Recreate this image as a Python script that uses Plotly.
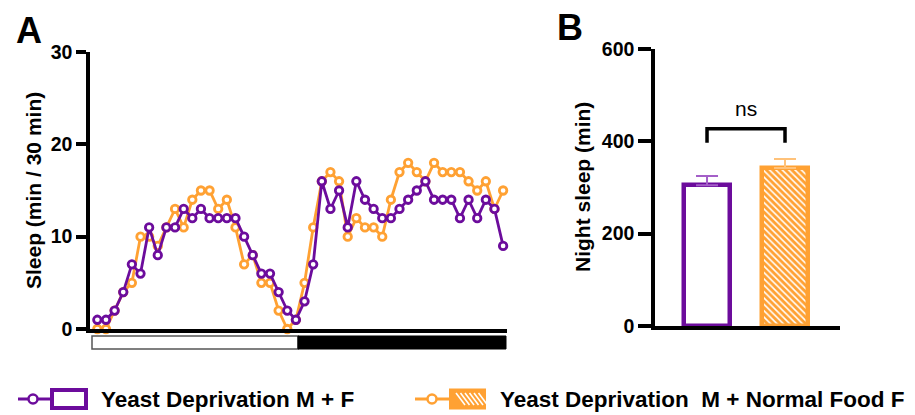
import plotly.graph_objects as go

# ---------------- data ----------------
time_bins = list(range(48))  # 30-min bins over 24 h
yd_mf = [1, 1, 2, 4, 7, 6, 11, 8, 11, 11,
         13, 12, 13, 12, 12, 12, 12, 10, 8, 6,
         6, 4, 2, 1, 3, 7, 16, 13, 15, 11,
         16, 14, 13, 12, 12, 13, 14, 15, 16, 14,
         14, 14, 12, 14, 12, 14, 13, 9]
yd_m_nf_f = [0, 0, 2, 4, 5, 10, 10, 9, 11, 13,
             11, 14, 15, 15, 13, 14, 11, 7, 8, 5,
             5, 2, 0, 1, 5, 11, 16, 17, 16, 10,
             12, 11, 11, 10, 14, 17, 18, 17, 16, 18,
             17, 17, 17, 16, 15, 16, 13, 15]

bar_groups = ["Yeast Deprivation M + F", "Yeast Deprivation  M + Normal Food F"]
night_sleep = [305, 342]
night_sem = [20, 20]

y_ticks_a = [0, 10, 20, 30]
y_ticks_b = [0, 200, 400, 600]

PURPLE = "#6C0C9C"
ORANGE = "#FFA133"
PURPLE_LIGHT = "#A45FC8"
ORANGE_LIGHT = "#FFC27A"
FONT = "Liberation Sans"

W, H = 915, 415
def px(x):
    return x / W
def py(y):
    return 1 - y / H

fig = go.Figure()

# ---------------- panel A ----------------
fig.add_trace(go.Scatter(
    x=time_bins, y=yd_m_nf_f, mode="lines+markers", xaxis="x", yaxis="y",
    line=dict(color=ORANGE, width=2.8),
    marker=dict(symbol="circle", size=7.5, color="white", line=dict(color=ORANGE, width=2.8)),
    cliponaxis=False, showlegend=False))
fig.add_trace(go.Scatter(
    x=time_bins, y=yd_mf, mode="lines+markers", xaxis="x", yaxis="y",
    line=dict(color=PURPLE, width=2.8),
    marker=dict(symbol="circle", size=7.5, color="white", line=dict(color=PURPLE, width=2.8)),
    cliponaxis=False, showlegend=False))

# ---------------- panel B ----------------
fig.add_trace(go.Bar(
    x=[0], y=[night_sleep[0]], xaxis="x2", yaxis="y2", width=0.6,
    marker=dict(color="white", line=dict(color=PURPLE, width=4.5)),
    error_y=dict(type="data", array=[night_sem[0]], arrayminus=[0], symmetric=False,
                 color=PURPLE_LIGHT, thickness=2, width=11),
    showlegend=False))
fig.add_trace(go.Bar(
    x=[1], y=[night_sleep[1]], xaxis="x2", yaxis="y2", width=0.6,
    marker=dict(color=ORANGE, line=dict(color=ORANGE, width=4.5),
                pattern=dict(shape="\\", fgcolor="white", bgcolor=ORANGE, size=4.5, solidity=0.35)),
    error_y=dict(type="data", array=[night_sem[1]], arrayminus=[0], symmetric=False,
                 color=ORANGE_LIGHT, thickness=2, width=11),
    showlegend=False))

tickfont = dict(family=FONT, size=19.5, color="black", weight="bold")

shapes = []
annotations = []

def ann(x, y, text, size, bold=False, angle=0, xanchor="center", xref="paper", yref="paper"):
    annotations.append(dict(
        x=px(x) if xref == "paper" else x, y=py(y) if yref == "paper" else y,
        xref=xref, yref=yref, xanchor=xanchor, yanchor="middle",
        text=("<b>%s</b>" % text) if bold else text, textangle=angle, showarrow=False,
        font=dict(family=FONT, size=size, color="black")))

# light/dark bar under panel A
shapes.append(dict(type="rect", xref="paper", yref="paper",
                   x0=px(92), x1=px(298), y0=py(349), y1=py(336),
                   fillcolor="white", line=dict(color="#555555", width=1.5)))
shapes.append(dict(type="rect", xref="paper", yref="paper",
                   x0=px(298), x1=px(506), y0=py(349), y1=py(336),
                   fillcolor="black", line=dict(color="black", width=1)))

# significance bracket in panel B
shapes.append(dict(type="path", xref="x2", yref="y2",
                   path="M 0,397 L 0,427 L 1,427 L 1,397",
                   line=dict(color="black", width=3.5)))
ann(0.5, 472, "ns", 21, xref="x2", yref="y2")

# panel letters
ann(29, 30, "A", 36, bold=True)
ann(570, 28, "B", 36, bold=True)

# axis titles
ann(33, 191, "Sleep (min / 30 min)", 21, bold=True, angle=-90)
ann(583, 187, "Night sleep (min)", 21, bold=True, angle=-90)

# manual legend
def legend_item(x_line0, x_line1, x_circ, x_rect0, x_rect1, x_text, color, label, hatched):
    yc = 399
    shapes.append(dict(type="line", xref="paper", yref="paper",
                       x0=px(x_line0), x1=px(x_line1), y0=py(yc), y1=py(yc),
                       line=dict(color=color, width=3)))
    shapes.append(dict(type="circle", xref="paper", yref="paper",
                       x0=px(x_circ - 4.5), x1=px(x_circ + 4.5), y0=py(yc + 4.5), y1=py(yc - 4.5),
                       fillcolor="white", line=dict(color=color, width=2.5)))
    if hatched:
        shapes.append(dict(type="rect", xref="paper", yref="paper",
                           x0=px(x_rect0), x1=px(x_rect1), y0=py(408.5), y1=py(389.5),
                           fillcolor=color, line=dict(color=color, width=2)))
        for k in range(6):
            xs = x_rect0 + 6 + k * 4.5
            shapes.append(dict(type="line", xref="paper", yref="paper",
                               x0=px(xs), x1=px(xs + 9), y0=py(393), y1=py(405),
                               line=dict(color="white", width=1.5)))
    else:
        shapes.append(dict(type="rect", xref="paper", yref="paper",
                           x0=px(x_rect0), x1=px(x_rect1), y0=py(408), y1=py(390),
                           fillcolor="white", line=dict(color=color, width=4)))
    ann(x_text, yc, label, 22.5, bold=True, xanchor="left")

legend_item(18, 50, 33, 52, 86, 99, PURPLE, bar_groups[0], False)
legend_item(415, 449, 432, 450, 485, 498, ORANGE, bar_groups[1].replace("  ", "&nbsp; "), True)

fig.update_layout(
    template="none",
    width=W, height=H, autosize=False,
    margin=dict(l=0, r=0, t=0, b=0, pad=0, autoexpand=False),
    paper_bgcolor="white", plot_bgcolor="white",
    font=dict(family=FONT, color="black"),
    showlegend=False,
    bargap=0,
    xaxis=dict(domain=[px(90), px(507)], range=[-0.85, 47.45], showgrid=False, zeroline=False,
               showline=True, linecolor="black", linewidth=4, showticklabels=False, ticks="",
               anchor="y", automargin=False),
    yaxis=dict(domain=[py(329), py(52)], range=[0, 30], tickvals=y_ticks_a, showgrid=False,
               zeroline=False, showline=True, linecolor="black", linewidth=3.5,
               ticks="outside", ticklen=10, tickwidth=3.5, tickcolor="black",
               tickfont=tickfont, anchor="x", automargin=False),
    xaxis2=dict(domain=[px(655), px(840)], range=[-0.667, 1.705], showgrid=False, zeroline=False,
                showline=True, linecolor="black", linewidth=4, showticklabels=False, ticks="",
                anchor="y2", automargin=False),
    yaxis2=dict(domain=[py(326), py(49)], range=[0, 600], tickvals=y_ticks_b, showgrid=False,
                zeroline=False, showline=True, linecolor="black", linewidth=3.5,
                ticks="outside", ticklen=13, tickwidth=3.5, tickcolor="black",
                tickfont=tickfont, anchor="x2", automargin=False),
    shapes=shapes,
    annotations=annotations,
)

fig.write_html("out.html", config={"displayModeBar": False},
               post_script="document.body.style.margin='0px';document.body.style.overflow='hidden';")
